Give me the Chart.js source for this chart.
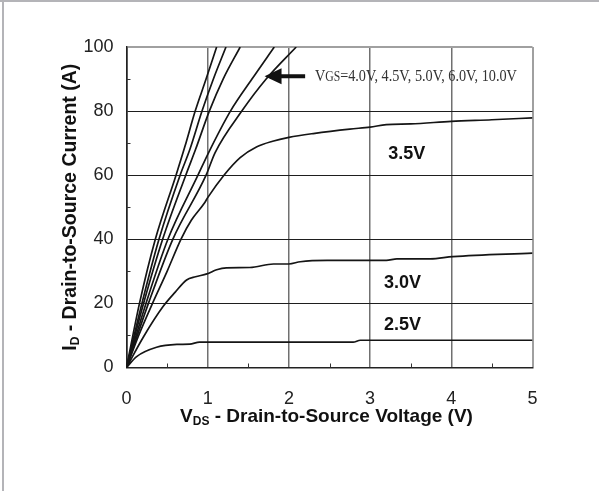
<!DOCTYPE html>
<html><head><meta charset="utf-8">
<script src="https://cdn.jsdelivr.net/npm/chart.js@4/dist/chart.umd.min.js"></script>
<style>html,body{margin:0;padding:0;background:#fff;}canvas{display:block;}</style>
</head><body>
<canvas id="c" width="599" height="491"></canvas>
<script>
// ---- tick values ----
const xTicks = [0, 1, 2, 3, 4, 5];
const yTicks = [0, 20, 40, 60, 80, 100];
const xMinorTicks = [0.5, 1.5, 2.5, 3.5, 4.5];
const yMinorTicks = [10, 30, 50, 70, 90];

// ---- series (VDS in V, ID in A) ----
const vgs10_V = [0, 0.16, 0.355, 0.61, 0.72, 0.846, 0.98, 1.11];
const vgs10_I = [0, 20, 40, 60, 69, 80, 90, 100];
const vgs6_V = [0, 0.19, 0.40, 0.66, 0.78, 0.93, 1.07, 1.225];
const vgs6_I = [0, 20, 40, 60, 68, 80, 90, 100];
const vgs5_V = [0, 0.21, 0.445, 0.73, 0.85, 1.02, 1.19, 1.40];
const vgs5_I = [0, 20, 40, 60, 68, 80, 90, 100];
const vgs45_V = [0, 0.24, 0.51, 0.88, 1.01, 1.28, 1.545, 1.82];
const vgs45_I = [0, 20, 40, 60, 67, 80, 90, 100];
const vgs4_V = [0, 0.27, 0.57, 0.98, 1.09, 1.42, 1.72, 2.09];
const vgs4_I = [0, 20, 40, 60, 67, 80, 90, 100];
const vgs35_V = [0, 0.15, 0.32, 0.5, 0.67, 0.8, 0.96, 1.0, 1.2, 1.4, 1.6, 1.8, 2.0, 2.3, 2.75, 3.0, 3.2, 3.5, 4.0, 4.5, 5.0];
const vgs35_I = [0, 10, 20, 30, 40, 46, 51.3, 53, 60, 65.5, 68.8, 70.6, 71.8, 73, 74.4, 75, 75.8, 76, 76.8, 77.3, 77.9];
const vgs30_V = [0, 0.21, 0.45, 0.6, 0.74, 0.85, 0.99, 1.11, 1.23, 1.52, 1.81, 2.0, 2.14, 2.47, 3.2, 3.33, 3.74, 4.02, 5.0];
const vgs30_I = [0, 9.6, 19, 23.5, 27.3, 28.3, 29.2, 30.5, 31.1, 31.2, 32.3, 32.3, 33, 33.4, 33.4, 33.9, 33.9, 34.6, 35.7];
const vgs25_V = [0, 0.125, 0.37, 0.62, 0.78, 0.9, 2.79, 2.88, 5.0];
const vgs25_I = [0, 3.4, 6.3, 7.2, 7.3, 7.9, 7.9, 8.5, 8.5];

const seriesNames = ['10.0V', '6.0V', '5.0V', '4.5V', '4.0V', '3.5V', '3.0V', '2.5V'];
const seriesV = [vgs10_V, vgs6_V, vgs5_V, vgs45_V, vgs4_V, vgs35_V, vgs30_V, vgs25_V];
const seriesI = [vgs10_I, vgs6_I, vgs5_I, vgs45_I, vgs4_I, vgs35_I, vgs30_I, vgs25_I];

// ---- annotation texts ----
const curveLabels = ['3.5V', '3.0V', '2.5V'];
const vgsNote = ['V', 'GS', '=4.0V, 4.5V, 5.0V, 6.0V, 10.0V'];

const SANS = '"Liberation Sans", Arial, sans-serif';
const SERIF = '"Liberation Serif", "Times New Roman", serif';

const datasets = seriesNames.map((n, k) => ({
  label: n,
  data: seriesV[k].map((v, i) => ({x: v, y: seriesI[k][i]})),
  showLine: true,
  borderColor: '#151515',
  borderWidth: 1.7,
  pointRadius: 0,
  cubicInterpolationMode: 'monotone',
  fill: false
}));

function drawParts(ctx, parts, cx, baseY) {
  let total = 0;
  parts.forEach(p => { ctx.font = p.f; p.w = ctx.measureText(p.t).width; total += p.w; });
  let x = cx - total / 2;
  ctx.textAlign = 'left';
  ctx.textBaseline = 'alphabetic';
  parts.forEach(p => { ctx.font = p.f; ctx.fillText(p.t, x, baseY + (p.dy || 0)); x += p.w; });
}

const overlay = {
  id: 'overlay',
  beforeDraw(chart) {
    const ctx = chart.ctx;
    ctx.save();
    ctx.fillStyle = '#fff';
    ctx.fillRect(0, 0, chart.width, chart.height);
    ctx.fillStyle = '#b4b4b8';
    ctx.fillRect(0, 0, chart.width, 2);
    ctx.fillRect(2, 0, 2, chart.height);
    ctx.restore();
  },
  afterDraw(chart) {
    const ctx = chart.ctx;
    const xs = chart.scales.x, ys = chart.scales.y, a = chart.chartArea;
    ctx.save();
    // minor ticks (inside)
    ctx.strokeStyle = '#333';
    ctx.lineWidth = 1;
    xMinorTicks.forEach(v => {
      const px = Math.round(xs.getPixelForValue(v)) + 0.5;
      ctx.beginPath(); ctx.moveTo(px, a.bottom); ctx.lineTo(px, a.bottom - 4); ctx.stroke();
    });
    yMinorTicks.forEach(v => {
      const py = Math.round(ys.getPixelForValue(v)) + 0.5;
      ctx.beginPath(); ctx.moveTo(a.left, py); ctx.lineTo(a.left + 4, py); ctx.stroke();
    });

    ctx.fillStyle = '#111';
    // x title
    drawParts(ctx, [
      {t: 'V', f: 'bold 19px ' + SANS},
      {t: 'DS', f: 'bold 12px ' + SANS, dy: 3},
      {t: ' - Drain-to-Source Voltage (V)', f: 'bold 19px ' + SANS}
    ], (a.left + a.right) / 2 - 3, 422);
    // y title
    ctx.save();
    ctx.translate(75.5, (a.top + a.bottom) / 2);
    ctx.rotate(-Math.PI / 2);
    drawParts(ctx, [
      {t: 'I', f: 'bold 19.5px ' + SANS},
      {t: 'D', f: 'bold 12px ' + SANS, dy: 3},
      {t: ' - Drain-to-Source Current (A)', f: 'bold 19.5px ' + SANS}
    ], 0, 0);
    ctx.restore();

    // curve labels
    const lab = [[3.45, 67], [3.40, 26.7], [3.40, 13.7]];
    ctx.font = 'bold 18px ' + SANS;
    ctx.textAlign = 'center';
    ctx.textBaseline = 'middle';
    curveLabels.forEach((t, i) => {
      ctx.fillText(t, xs.getPixelForValue(lab[i][0]), ys.getPixelForValue(lab[i][1]) + 1);
    });

    // arrow
    const tipX = xs.getPixelForValue(1.70), ay = ys.getPixelForValue(90.9);
    const tailX = xs.getPixelForValue(2.20);
    ctx.fillStyle = '#111';
    ctx.beginPath();
    ctx.moveTo(tipX, ay);
    ctx.lineTo(tipX + 17, ay - 8);
    ctx.lineTo(tipX + 17, ay - 2);
    ctx.lineTo(tailX, ay - 2);
    ctx.lineTo(tailX, ay + 2);
    ctx.lineTo(tipX + 17, ay + 2);
    ctx.lineTo(tipX + 17, ay + 8);
    ctx.closePath();
    ctx.fill();

    // VGS note (condensed serif)
    const nx = xs.getPixelForValue(2.32), ny = ys.getPixelForValue(91.4);
    const fonts = ['17px ' + SERIF, '14px ' + SERIF, '17px ' + SERIF];
    let w = 0;
    const ws = vgsNote.map((t, i) => { ctx.font = fonts[i]; const m = ctx.measureText(t).width; w += m; return m; });
    const sx = 202 / w;
    ctx.save();
    ctx.translate(nx, ny + 6);
    ctx.scale(sx, 1);
    ctx.fillStyle = '#333';
    ctx.textAlign = 'left';
    ctx.textBaseline = 'alphabetic';
    let cx = 0;
    vgsNote.forEach((t, i) => { ctx.font = fonts[i]; ctx.fillText(t, cx, 0); cx += ws[i]; });
    ctx.restore();
    ctx.restore();
  }
};

new Chart(document.getElementById('c'), {
  type: 'scatter',
  data: { datasets },
  options: {
    responsive: false,
    animation: false,
    devicePixelRatio: 1,
    layout: { padding: { left: 0, top: 47, right: 66.5, bottom: 0 } },
    plugins: { legend: { display: false }, tooltip: { enabled: false } },
    scales: {
      x: {
        type: 'linear', min: 0, max: 5,
        afterBuildTicks: s => { s.ticks = xTicks.map(v => ({value: v})); },
        afterFit: s => { s.height = 123.5; },
        ticks: { color: '#222', font: { family: SANS, size: 18 }, padding: 21, maxRotation: 0 },
        grid: {
          drawTicks: false,
          color: c => (c.tick && (c.tick.value === 5)) ? '#a0a0a0' : (c.tick && c.tick.value === 0 ? '#222' : '#707070'),
          lineWidth: c => (c.tick && c.tick.value === 5) ? 2 : 1.5
        },
        border: { display: true, color: '#222', width: 1.5 }
      },
      y: {
        type: 'linear', min: 0, max: 100,
        afterBuildTicks: s => { s.ticks = yTicks.map(v => ({value: v})); },
        afterFit: s => { s.width = 126.5; },
        ticks: { color: '#222', font: { family: SANS, size: 18 }, padding: 13 },
        grid: {
          drawTicks: false,
          color: c => (c.tick && c.tick.value === 100) ? '#a0a0a0' : '#1e1e1e',
          lineWidth: c => (c.tick && c.tick.value === 100) ? 2 : 1
        },
        border: { display: true, color: '#222', width: 1.5 }
      }
    }
  },
  plugins: [overlay]
});
</script>
</body></html>
